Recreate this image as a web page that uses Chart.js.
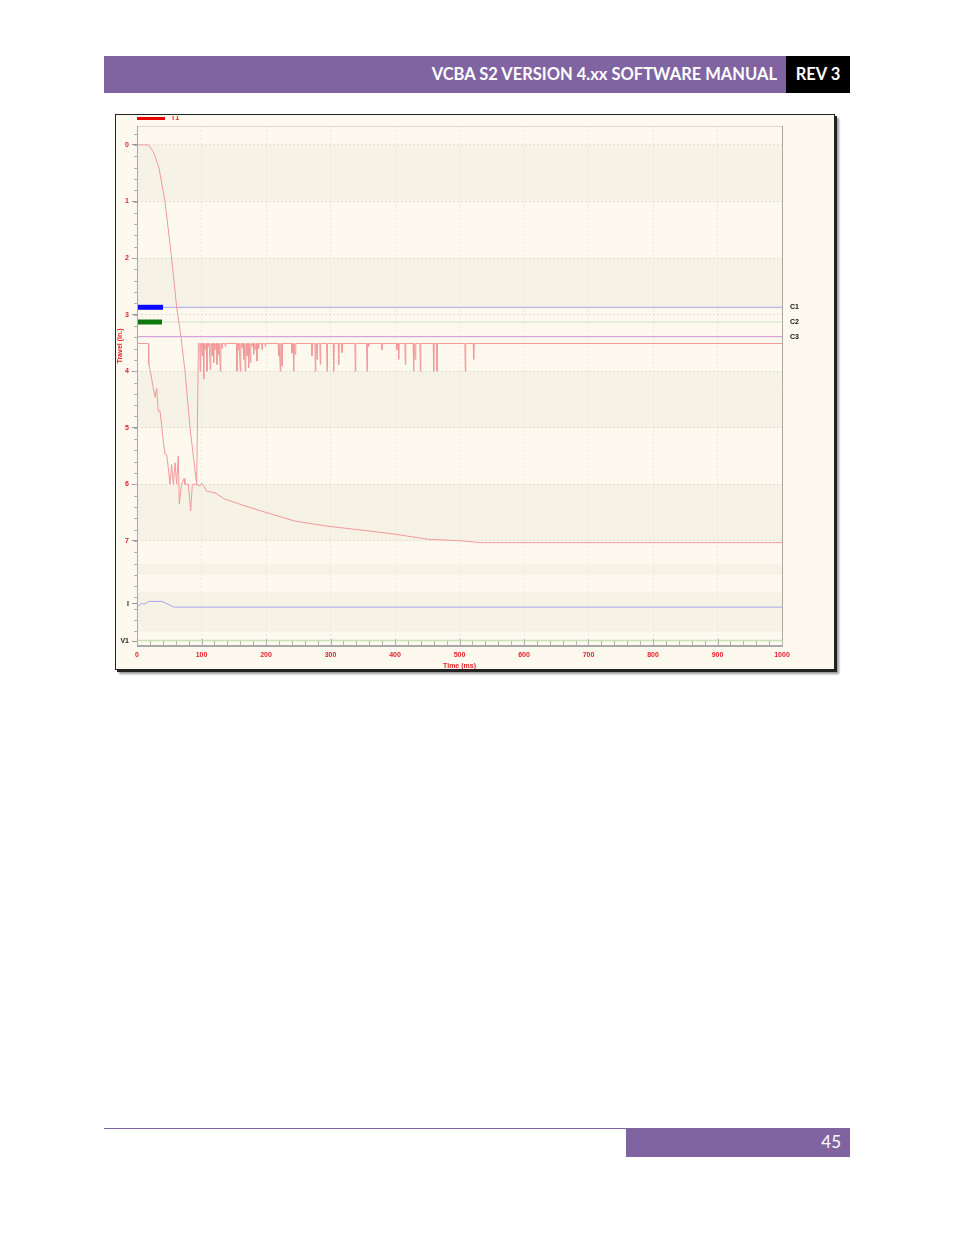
<!DOCTYPE html>
<html>
<head>
<meta charset="utf-8">
<script src="https://cdn.jsdelivr.net/npm/chart.js@4"></script>
<style>
  body { margin: 0; width: 954px; height: 1235px; background: #fff; position: relative; overflow: hidden; }
  .hdr { position: absolute; left: 104px; top: 56px; width: 682px; height: 37px; background: #8064a2;
         color: #fff; font: bold 16.5px Lato, "Open Sans", sans-serif; text-align: right; line-height: 37px;
         box-sizing: border-box; padding-right: 9px; }
  .rev { position: absolute; left: 786px; top: 56px; width: 64px; height: 37px; background: #000;
         color: #fff; font: bold 16.5px Lato, "Open Sans", sans-serif; text-align: center; line-height: 37px; }
  .frame { position: absolute; left: 115px; top: 114px; width: 718px; height: 554px; background: #fdf9ee;
           border: 1px solid #222; box-shadow: 2px 2px 0 #222, 4px 4px 2px #999; }
  #chart { position: absolute; left: 116px; top: 116px; }
  .fline { position: absolute; left: 104px; top: 1128px; width: 746px; height: 1px; background: #8064a2; }
  .fbox { position: absolute; left: 626px; top: 1128px; width: 224px; height: 29px; background: #8064a2;
          color: #fff; font: 17px Lato, "Open Sans", sans-serif; text-align: right; line-height: 27px;
          box-sizing: border-box; padding-right: 9px; }
</style>
</head>
<body>
<div class="hdr">VCBA S2 VERSION 4.xx SOFTWARE MANUAL</div>
<div class="rev">REV 3</div>
<div class="frame"></div>
<canvas id="chart" width="718" height="553"></canvas>
<div class="fline"></div>
<div class="fbox">45</div>
<script>
// Travel trace T1 (ms, in.)
const travelTime = [0, 17.6, 25.3, 34, 43.4, 53.7, 61.5, 68.2, 74.4, 82.2, 92.5, 97, 100, 103, 108, 112, 121, 136, 167, 198, 245, 296, 349, 400, 451, 504, 532, 1000];
const travelValue = [0, 0, 0.12, 0.4, 1.0, 2.0, 2.87, 3.39, 4.0, 5.0, 6.0, 6.03, 5.98, 6.02, 6.12, 6.13, 6.15, 6.26, 6.38, 6.49, 6.65, 6.74, 6.81, 6.88, 6.97, 7.0, 7.03, 7.03];

// second (raw) travel trace, first part
const rawTime = [0, 17.6, 18.2, 21, 25, 28, 30.5, 33, 35.7, 38.5, 40.8, 43.4, 46, 48.5, 51, 53.7, 56.3, 59, 61.5, 64, 65.6, 69, 72.9, 74.4, 79.6, 83.2, 85.8, 92.5, 95.2];
const rawValue = [3.51, 3.51, 3.88, 4.02, 4.29, 4.46, 4.3, 4.71, 4.7, 5.0, 5.24, 5.47, 5.48, 5.7, 6.0, 5.65, 6.0, 5.62, 6.0, 5.5, 6.35, 6.0, 5.9, 6.0, 6.0, 6.47, 6.0, 6.0, 3.51];
const rawBase = 3.51;
// spikes on the raw trace after it returns
const spikeTime = [98, 100.8, 103.4, 105.9, 108.5, 111.1, 113.7, 116.3, 118.9, 121.4, 124, 126.6, 129.2, 131.8, 136.9,
  155, 157.6, 160.2, 162.8, 165.4, 168, 170.5, 173.1, 175.7, 178.3, 180.9, 183.5, 186, 188.6, 193.8, 199,
  219.6, 222.2, 224.8, 240.3, 242.9, 245.5, 271.3, 276.5, 279.1, 284.2, 294.6, 304.9, 312.7, 317.8, 338.5,
  356.6, 359.2, 379.8, 403.1, 405.7, 416, 428.9, 431.5, 439.3, 460, 465.1, 509, 522];
const spikeValue = [4.0, 3.73, 4.14, 3.62, 4.0, 3.56, 3.97, 3.73, 3.85, 3.62, 3.88, 3.7, 4.0, 3.6, 3.56,
  4.0, 3.62, 4.0, 3.59, 3.79, 4.0, 3.73, 3.94, 3.85, 3.56, 3.7, 3.62, 3.82, 3.6, 3.62, 3.56,
  3.73, 4.0, 3.91, 3.68, 4.0, 3.7, 3.73, 4.0, 3.79, 3.88, 4.0, 4.0, 3.88, 3.67, 4.0,
  4.0, 3.56, 3.62, 3.62, 3.79, 3.88, 4.0, 3.79, 4.0, 4.0, 4.0, 4.0, 3.79];

// contacts
const contactName = ["C1", "C2", "C3"];
const contactLevel = [2.87, 3.13, 3.39];
const contactOpen = [40.3, 38.8, 0];

// coil current I and V1
const currentTime = [0, 1.5, 7.8, 10, 12.9, 18, 38.8, 46.5, 57, 1000];
const currentValue = [8.17, 8.17, 8.10, 8.12, 8.11, 8.07, 8.07, 8.11, 8.17, 8.17];
const voltageTime = [0, 1000];
const voltageValue = [8.76, 8.76];

// axis
const yTickValues = [0, 1, 2, 3, 4, 5, 6, 7, 8.11, 8.77];
const yTickLabels = ["0", "1", "2", "3", "4", "5", "6", "7", "I", "V1"];
const xMax = 1000;

const RED = "#e8202a";
const TRACE = "#f29a9a";
const FONT = "'Liberation Sans', Arial, sans-serif";

function pts(t, v) { return t.map((x, i) => ({ x: x, y: v[i] })); }

const rawPts = pts(rawTime, rawValue);
spikeTime.forEach((t, i) => {
    rawPts.push({ x: t - 0.7, y: rawBase }, { x: t, y: spikeValue[i] }, { x: t + 0.7, y: rawBase });
});
rawPts.push({ x: xMax, y: rawBase });

// drawn bottom-up: later entries end on top
const lineColors = ["#a9a9f2", "#cfe4c2", "#cc8ed8"];
const barColors = ["#0a0aff", "#0b7a0b", null];
const layers = [];
contactName.forEach((n, i) => {
    layers.push({ data: [{ x: 0, y: contactLevel[i] }, { x: xMax, y: contactLevel[i] }], borderColor: lineColors[i], borderWidth: 1 });
    if (contactOpen[i] > 0)
        layers.push({ data: [{ x: 0, y: contactLevel[i] }, { x: contactOpen[i], y: contactLevel[i] }], borderColor: barColors[i], borderWidth: 5, borderCapStyle: "butt" });
});
layers.push({ data: pts(voltageTime, voltageValue), borderColor: "#c9e4b4", borderWidth: 1.5 });
layers.push({ data: pts(currentTime, currentValue), borderColor: "#aaa6ee", borderWidth: 1 });
layers.push({ data: rawPts, borderColor: TRACE, borderWidth: 1 });
layers.push({ data: pts(travelTime, travelValue), borderColor: TRACE, borderWidth: 1 });
const datasets = layers.reverse();

// shaded bands, in value units
const bandFrom = [0, 2, 4, 6, 7.4, 7.9, 8.36];
const bandTo = [1, 2.9, 5, 7, 7.6, 8.36, 8.6];

const decor = {
    id: "decor",
    beforeDraw(chart) {
        const { ctx, chartArea: a, scales: { y } } = chart;
        ctx.save();
        ctx.fillStyle = "#fdf9ef";
        ctx.fillRect(a.left, a.top, a.right - a.left, a.bottom - a.top);
        ctx.fillStyle = "#f6f2e6";
        bandFrom.forEach((b, i) => {
            const y1 = y.getPixelForValue(b), y2 = y.getPixelForValue(bandTo[i]);
            ctx.fillRect(a.left, y1, a.right - a.left, y2 - y1);
        });
        ctx.restore();
    },
    afterDraw(chart) {
        const { ctx, chartArea: a, scales: { x, y } } = chart;
        ctx.save();
        // frame
        ctx.strokeStyle = "#dcd8ce"; ctx.lineWidth = 1;
        ctx.beginPath(); ctx.moveTo(a.left, a.top + 0.5); ctx.lineTo(a.right, a.top + 0.5); ctx.stroke();
        ctx.strokeStyle = "#a8a8a8";
        ctx.beginPath(); ctx.moveTo(a.left + 0.5, a.top); ctx.lineTo(a.left + 0.5, a.bottom); ctx.stroke();
        ctx.beginPath(); ctx.moveTo(a.right + 0.5, a.top); ctx.lineTo(a.right + 0.5, a.bottom); ctx.stroke();
        ctx.lineWidth = 2;
        ctx.beginPath(); ctx.moveTo(a.left, a.bottom + 1); ctx.lineTo(a.right + 1, a.bottom + 1); ctx.stroke();
        // minor ticks
        ctx.lineWidth = 1; ctx.strokeStyle = "#b0b0b0";
        for (let v = -0.2; v < 8.8; v += 0.2) {
            const py = Math.round(y.getPixelForValue(v)) + 0.5;
            ctx.beginPath(); ctx.moveTo(a.left - 3, py); ctx.lineTo(a.left, py); ctx.stroke();
        }
        for (let t = 0; t <= xMax; t += 20) {
            const px = Math.round(x.getPixelForValue(t)) + 0.5;
            const len = t % 100 === 0 ? 6 : 4;
            ctx.beginPath(); ctx.moveTo(px, a.bottom); ctx.lineTo(px, a.bottom - len); ctx.stroke();
        }
        // contact labels
        ctx.fillStyle = "#111";
        ctx.font = "bold 7px " + FONT;
        ctx.textBaseline = "middle";
        contactName.forEach((n, i) => ctx.fillText(n, a.right + 8, y.getPixelForValue(contactLevel[i])));
        // legend
        ctx.fillStyle = "#e80000";
        ctx.fillRect(a.left, 1, 28, 3);
        ctx.fillStyle = RED;
        ctx.fillText("T1", a.left + 34, 2.5);
        // axis titles
        ctx.textAlign = "center";
        ctx.fillText("Time (ms)", x.getPixelForValue(500), a.bottom + 21);
        ctx.translate(4, 230);
        ctx.rotate(-Math.PI / 2);
        ctx.fillText("Travel (in.)", 0, 0);
        ctx.restore();
    }
};

new Chart(document.getElementById("chart"), {
    type: "line",
    data: { datasets: datasets },
    options: {
        responsive: false,
        animation: false,
        layout: { padding: { top: 10, right: 52, left: 0, bottom: 0 } },
        plugins: { legend: { display: false }, tooltip: { enabled: false } },
        elements: { point: { radius: 0 }, line: { tension: 0 } },
        scales: {
            x: {
                type: "linear", min: 0, max: xMax,
                afterFit: (s) => { s.height = 24; },
                ticks: { stepSize: 100, color: RED, padding: 6, maxRotation: 0, callback: (v) => String(v), font: { family: FONT, size: 7, weight: "bold" } },
                grid: { color: "#ebe7dc", drawTicks: false },
                border: { display: false, dash: [2, 2] }
            },
            y: {
                type: "linear", reverse: true, min: -0.335, max: 8.84,
                afterFit: (s) => { s.width = 21; },
                afterBuildTicks: (s) => { s.ticks = yTickValues.map((v) => ({ value: v })); },
                ticks: {
                    padding: 3,
                    callback: (v) => yTickLabels[yTickValues.indexOf(v)],
                    color: (c) => (c.index < 8 ? RED : "#222"),
                    font: { family: FONT, size: 7, weight: "bold" }
                },
                grid: {
                    color: (c) => (c.index < 8 ? "#e2ded4" : "rgba(0,0,0,0)"),
                    tickColor: "#999", tickLength: 5
                },
                border: { display: false, dash: [2, 2] }
            }
        }
    },
    plugins: [decor]
});
</script>
</body>
</html>
